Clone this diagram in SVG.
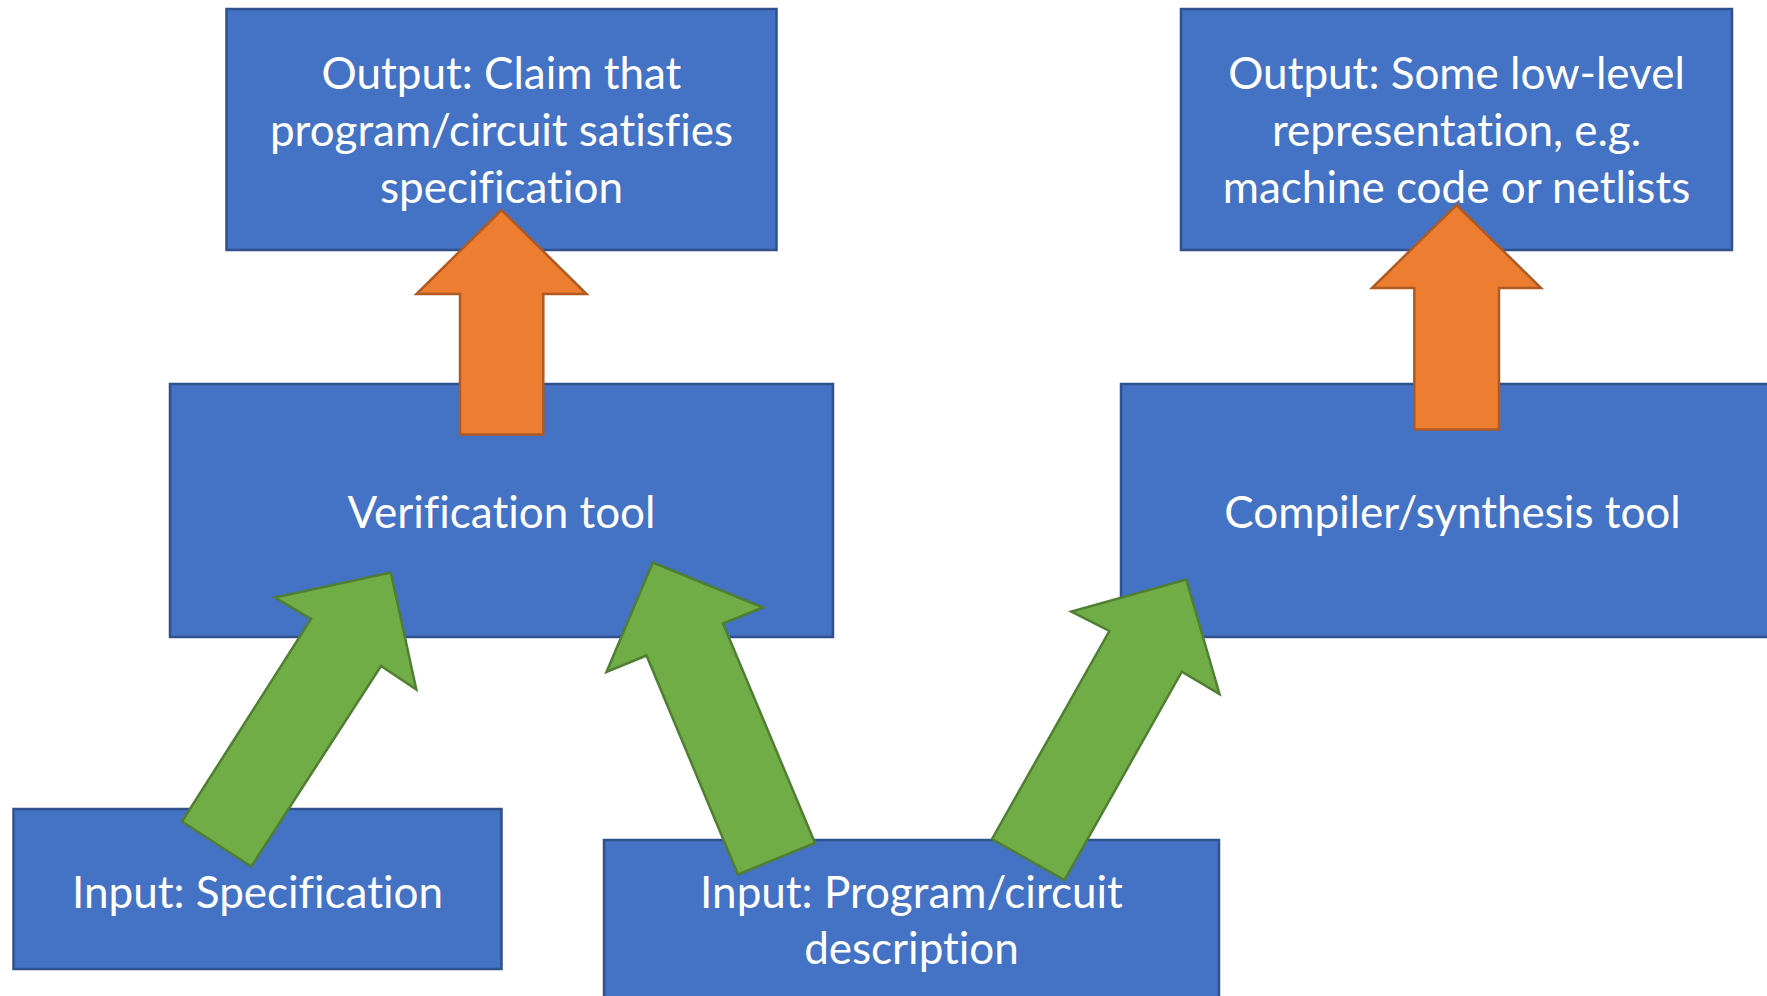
<svg xmlns="http://www.w3.org/2000/svg" width="1767" height="996" viewBox="0 0 1767 996">
<style>
.box{fill:#4472C4;stroke:#2F528F;stroke-width:2.5}
.lbl{font-family:Lato,"Open Sans","Liberation Sans",sans-serif;font-size:44px;fill:#ffffff;text-anchor:middle;font-variant-ligatures:none;font-feature-settings:"liga" 0,"dlig" 0}
.up{fill:#ED7D31;stroke:#AE5A21;stroke-width:2.5}
.feed{fill:#70AD47;stroke:#507E32;stroke-width:2.5}
</style>
<rect width="1767" height="996" fill="#ffffff"/>

<g id="out-claim">
<rect class="box" x="226.5" y="9" width="550" height="241"/>
<text class="lbl" x="501.5" y="88.5">Output: Claim that</text>
<text class="lbl" x="501.5" y="145.5">program/circuit satisfies</text>
<text class="lbl" x="501.5" y="202.5">specification</text>
</g>

<g id="out-lowlevel">
<rect class="box" x="1181" y="9" width="551" height="241"/>
<text class="lbl" x="1456.5" y="88.5">Output: Some low-level</text>
<text class="lbl" x="1456.5" y="145.5">representation, e.g.</text>
<text class="lbl" x="1456.5" y="202.5">machine code or netlists</text>
</g>

<g id="verify">
<rect class="box" x="170" y="384" width="663" height="253"/>
<text class="lbl" x="501.5" y="527.5">Verification tool</text>
</g>

<g id="compile">
<rect class="box" x="1121" y="384" width="663" height="253"/>
<text class="lbl" x="1452.5" y="527.5">Compiler/synthesis tool</text>
</g>

<g id="in-spec">
<rect class="box" x="13.5" y="809" width="488" height="160"/>
<text class="lbl" x="257.5" y="907.5">Input: Specification</text>
</g>

<g id="in-program">
<rect class="box" x="604" y="840" width="615" height="162"/>
<text class="lbl" x="911.5" y="907.5">Input: Program/circuit</text>
<text class="lbl" x="911.5" y="963.5">description</text>
</g>

<g id="connectors">
<polygon class="up" points="501.5,210 586.5,294 543.3,294 543.3,434.5 460,434.5 460,294 416.5,294"/>
<polygon class="up" points="1456.5,205 1541,288 1499,288 1499,429.5 1414.3,429.5 1414.3,288 1372,288"/>
<polygon class="feed" points="390.8,572.5 416.3,689.5 381,666 251.3,866.5 182,821.5 311,619 275,597.5"/>
<polygon class="feed" points="652.8,562.5 763,607.5 723,623.5 815,843 738,874.5 646.5,655.5 606.5,672"/>
<polygon class="feed" points="1186.3,579.5 1219.5,694 1181.8,671.7 1064.5,880 992,839 1109.4,631 1071.3,611.5"/>
</g>
</svg>
